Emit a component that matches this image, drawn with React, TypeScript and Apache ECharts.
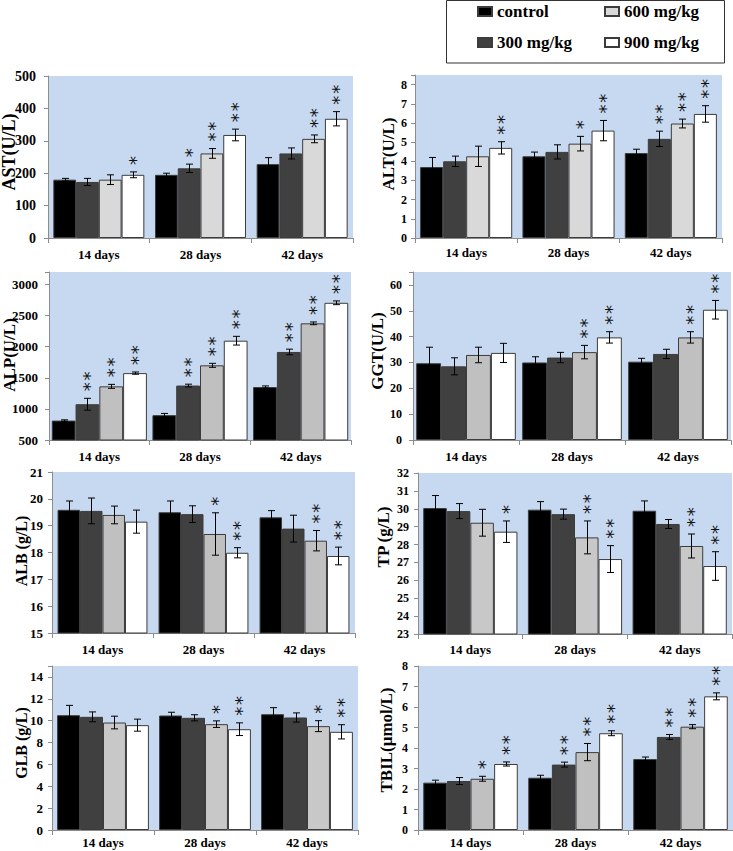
import React, { useEffect, useRef } from 'react';
import * as echarts from 'echarts';

const days = ['14 days', '28 days', '42 days'];
const groups = ['control', '300 mg/kg', '600 mg/kg', '900 mg/kg'];

// rows = groups (control, 300, 600, 900), columns = days (14, 28, 42)
const astMean = [[180, 195, 228], [173, 215, 261], [180, 261, 306], [195, 318, 368]];
const astErr = [[4, 5, 20], [11, 13, 17], [15, 15, 12], [9, 18, 22]];
const astStars = [[0, 0, 0], [0, 1, 0], [0, 2, 2], [1, 2, 2]];

const altMean = [[3.70, 4.26, 4.43], [4.00, 4.49, 5.17], [4.26, 4.92, 5.97], [4.70, 5.60, 6.47]];
const altErr = [[0.50, 0.22, 0.20], [0.27, 0.37, 0.40], [0.53, 0.38, 0.23], [0.32, 0.53, 0.43]];
const altStars = [[0, 0, 0], [0, 0, 2], [0, 1, 2], [2, 2, 2]];

const alpMean = [[812, 899, 1351], [1075, 1375, 1915], [1362, 1700, 2375], [1575, 2096, 2705]];
const alpErr = [[12, 28, 18], [95, 22, 45], [32, 32, 22], [18, 70, 30]];
const alpStars = [[0, 0, 0], [2, 2, 2], [2, 2, 2], [2, 2, 2]];

const ggtMean = [[29.7, 30.0, 30.3], [28.5, 31.9, 33.3], [32.9, 34.0, 39.7], [33.7, 39.7, 50.4]];
const ggtErr = [[6.2, 2.2, 1.3], [3.3, 2.0, 1.8], [3.0, 2.6, 2.2], [3.7, 2.2, 3.6]];
const ggtStars = [[0, 0, 0], [0, 0, 0], [0, 2, 2], [0, 2, 2]];

const albMean = [[19.59, 19.50, 19.31], [19.55, 19.43, 18.89], [19.40, 18.69, 18.44], [19.15, 17.99, 17.87]];
const albErr = [[0.33, 0.42, 0.25], [0.48, 0.31, 0.50], [0.33, 0.79, 0.38], [0.43, 0.19, 0.33]];
const albStars = [[0, 0, 0], [0, 0, 0], [0, 1, 2], [0, 2, 2]];

const tpMean = [[30.04, 29.95, 29.89], [29.87, 29.70, 29.15], [29.22, 28.40, 27.92], [28.72, 27.19, 26.80]];
const tpErr = [[0.70, 0.45, 0.55], [0.42, 0.28, 0.25], [0.75, 0.92, 0.67], [0.60, 0.75, 0.80]];
const tpStars = [[0, 0, 0], [0, 0, 0], [0, 2, 2], [1, 2, 2]];

const glbMean = [[10.50, 10.47, 10.59], [10.35, 10.26, 10.29], [9.83, 9.68, 9.50], [9.59, 9.22, 8.98]];
const glbErr = [[0.90, 0.30, 0.60], [0.45, 0.28, 0.42], [0.58, 0.30, 0.50], [0.55, 0.58, 0.65]];
const glbStars = [[0, 0, 0], [0, 0, 0], [0, 1, 1], [0, 2, 2]];

const tbilMean = [[2.31, 2.55, 3.46], [2.39, 3.19, 4.54], [2.50, 3.80, 5.04], [3.22, 4.72, 6.52]];
const tbilErr = [[0.12, 0.12, 0.10], [0.17, 0.12, 0.12], [0.12, 0.42, 0.10], [0.10, 0.12, 0.17]];
const tbilStars = [[0, 0, 0], [0, 2, 2], [1, 2, 2], [2, 2, 2]];

const FONT = 'Liberation Serif, Times New Roman, serif';
const BG = '#c6d9f1';
const AXIS = '#8c8c8c';

const panels = [
  { title: 'AST(U/L)', mean: astMean, err: astErr, stars: astStars, min: 0, max: 500, interval: 100, labelMax: 500,
    left: 48, right: 353, top: 76, bottom: 238, gap: 0.105, tickFont: 14, tickMargin: 12, xMargin: 10,
    nameX: 8.5, nameY: 152, nameFont: 18, c600: '#d9d9d9' },
  { title: 'ALT(U/L)', mean: altMean, err: altErr, stars: altStars, min: 0, max: 8.5, interval: 1, labelMax: 8,
    left: 415, right: 722, top: 75, bottom: 238, gap: 0.10, tickFont: 12, tickMargin: 8, xMargin: 8,
    nameX: 388, nameY: 154, nameFont: 17, c600: '#d9d9d9' },
  { title: 'ALP(U/L)', mean: alpMean, err: alpErr, stars: alpStars, min: 500, max: 3200, interval: 500, labelMax: 3000,
    left: 49, right: 351, top: 272, bottom: 440, gap: 0.055, tickFont: 13, tickMargin: 11, xMargin: 10,
    nameX: 9, nameY: 355, nameFont: 17, c600: '#c0c0c0' },
  { title: 'GGT(U/L)', mean: ggtMean, err: ggtErr, stars: ggtStars, min: 0, max: 65, interval: 10, labelMax: 60,
    left: 413, right: 731, top: 272, bottom: 440, gap: 0.06, tickFont: 12, tickMargin: 11, xMargin: 10,
    nameX: 377, nameY: 351, nameFont: 17, c600: '#c0c0c0' },
  { title: 'ALB (g/L)', mean: albMean, err: albErr, stars: albStars, min: 15, max: 21, interval: 1, labelMax: 21,
    left: 52, right: 355, top: 472, bottom: 633, gap: 0.11, tickFont: 13, tickMargin: 9, xMargin: 10,
    nameX: 21.5, nameY: 551, nameFont: 16, c600: '#c0c0c0' },
  { title: 'TP (g/L)', mean: tpMean, err: tpErr, stars: tpStars, min: 23, max: 32, interval: 1, labelMax: 32,
    left: 418, right: 732, top: 473, bottom: 634, gap: 0.10, tickFont: 12, tickMargin: 9, xMargin: 9,
    nameX: 383, nameY: 537, nameFont: 17, c600: '#c8c8c8' },
  { title: 'GLB (g/L)', mean: glbMean, err: glbErr, stars: glbStars, min: 0, max: 15, interval: 2, labelMax: 14,
    left: 52, right: 358, top: 666, bottom: 830, gap: 0.10, tickFont: 13, tickMargin: 9, xMargin: 6,
    nameX: 21, nameY: 743, nameFont: 16, c600: '#c8c8c8' },
  { title: 'TBIL(μmol/L)', mean: tbilMean, err: tbilErr, stars: tbilStars, min: 0, max: 8, interval: 1, labelMax: 8,
    left: 418, right: 733, top: 666, bottom: 830, gap: 0.10, tickFont: 12, tickMargin: 10, xMargin: 6,
    nameX: 386, nameY: 740, nameFont: 17, c600: '#c0c0c0' },
];

function buildOption() {
  const grid: any[] = [];
  const xAxis: any[] = [];
  const yAxis: any[] = [];
  const series: any[] = [];
  const graphic: any[] = [];

  panels.forEach((p, i) => {
    grid.push({
      left: p.left, top: p.top, width: p.right - p.left, height: p.bottom - p.top,
      show: true, backgroundColor: BG, borderWidth: 0,
    });
    xAxis.push({
      type: 'category', gridIndex: i, data: days,
      axisLine: { show: true, lineStyle: { color: AXIS, width: 1 } },
      axisTick: { show: true, length: 5, lineStyle: { color: AXIS } },
      axisLabel: { fontFamily: FONT, fontWeight: 'bold', fontSize: 13, color: '#000', margin: p.xMargin },
    });
    yAxis.push({
      type: 'value', gridIndex: i, min: p.min, max: p.max, interval: p.interval,
      splitLine: { show: false },
      axisLine: { show: true, lineStyle: { color: AXIS, width: 1 } },
      axisTick: { show: true, length: 4, lineStyle: { color: AXIS } },
      axisLabel: {
        fontFamily: FONT, fontWeight: 'bold', fontSize: p.tickFont, color: '#000', margin: p.tickMargin,
        formatter: (v: number) => (v > p.labelMax + 1e-9 ? '' : String(v)),
      },
    });
    const colors = ['#000000', '#404040', p.c600, '#ffffff'];
    groups.forEach((g, gi) => {
      series.push({
        type: 'bar', name: g, xAxisIndex: i, yAxisIndex: i, data: p.mean[gi],
        barGap: '0%', barCategoryGap: `${p.gap * 100}%`, silent: true,
        itemStyle: { color: colors[gi], borderColor: '#3c3c3c', borderWidth: 1 },
      });
    });
    const items: number[][] = [];
    for (let gi = 0; gi < 4; gi++) {
      for (let d = 0; d < 3; d++) {
        items.push([d, gi, p.mean[gi][d], p.err[gi][d], p.stars[gi][d]]);
      }
    }
    const gap = p.gap;
    series.push({
      type: 'custom', xAxisIndex: i, yAxisIndex: i, silent: true, z: 10,
      data: items,
      encode: { x: 0, y: 2 },
      renderItem: (params: any, api: any) => {
        const d = api.value(0);
        const gi = api.value(1);
        const m = api.value(2);
        const e = api.value(3);
        const s = api.value(4);
        const c = api.coord([d, m]);
        const band = api.size([1, 0])[0];
        const gw = band * (1 - gap);
        const bw = gw / 4;
        const x = Math.round(c[0] - gw / 2 + (gi + 0.5) * bw) + 0.5;
        const yT = api.coord([d, m + e])[1];
        const yB = api.coord([d, m - e])[1];
        const cap = 3.5;
        const ls = { stroke: '#000', lineWidth: 1 };
        const children: any[] = [
          { type: 'line', shape: { x1: x, y1: yT, x2: x, y2: yB }, style: ls },
          { type: 'line', shape: { x1: x - cap, y1: yT, x2: x + cap, y2: yT }, style: ls },
          { type: 'line', shape: { x1: x - cap, y1: yB, x2: x + cap, y2: yB }, style: ls },
        ];
        if (s > 0) {
          // stars stacked vertically: one text line rotated to run upward
          children.push({
            type: 'text',
            x: x + 1.5,
            y: yT - 7,
            rotation: Math.PI / 2,
            style: {
              text: s === 2 ? '*\u200A*' : '*', x: 0, y: 0,
              align: 'left', verticalAlign: 'middle',
              font: '18px DejaVu Sans, sans-serif', fill: '#111',
            },
          });
        }
        return { type: 'group', children };
      },
    });
    graphic.push({
      type: 'text', x: p.nameX, y: p.nameY, rotation: Math.PI / 2,
      style: {
        text: p.title, x: 0, y: 0, align: 'center', verticalAlign: 'middle',
        font: `bold ${p.nameFont}px ${FONT}`, fill: '#000',
      },
    });
  });

  graphic.push({
    type: 'rect', shape: { x: 446.5, y: 0.5, width: 278, height: 62.5 },
    style: { fill: 'none', stroke: '#333', lineWidth: 1 },
  });

  const legendBase = {
    orient: 'vertical', top: 3, itemGap: 14, itemWidth: 14, itemHeight: 9, padding: 0,
    icon: 'rect', selectedMode: false,
    textStyle: { fontFamily: FONT, fontWeight: 'bold', fontSize: 17, color: '#000' },
  };

  return {
    animation: false,
    backgroundColor: '#ffffff',
    grid, xAxis, yAxis, series, graphic,
    legend: [
      { ...legendBase, left: 477, data: ['control', '300 mg/kg'] },
      { ...legendBase, left: 604, data: ['600 mg/kg', '900 mg/kg'] },
    ],
  };
}

export default function App() {
  const ref = useRef<HTMLDivElement>(null);
  useEffect(() => {
    if (!ref.current) return;
    const chart = echarts.init(ref.current, undefined, { renderer: 'svg' });
    chart.setOption(buildOption() as any);
    return () => chart.dispose();
  }, []);
  return (
    <div
      ref={ref}
      style={{ position: 'absolute', left: 0, top: 0, width: 733, height: 851, background: '#fff' }}
    />
  );
}
